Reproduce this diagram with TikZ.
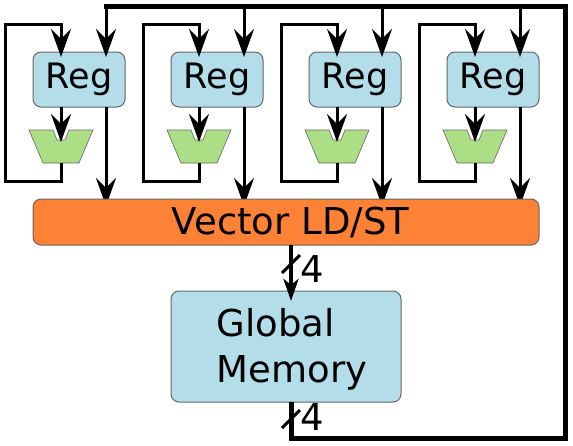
\documentclass[tikz,border=0pt]{standalone}
\usepackage{fontspec}
\setmainfont{DejaVu Sans}
\usetikzlibrary{arrows.meta}
\definecolor{boxblue}{HTML}{B2DDE9}
\definecolor{boxorange}{HTML}{FE8235}
\definecolor{muxgreen}{HTML}{ABDE85}
\definecolor{edgegray}{HTML}{666666}
\tikzset{
  block/.style={draw=edgegray,line width=1pt,rounded corners=8pt,inner sep=0pt,outer sep=0pt,text=black,font=\fontsize{37}{46}\selectfont},
  regbox/.style={block,fill=boxblue,minimum width=92pt,minimum height=55pt,font=\fontsize{35}{40}\selectfont},
  wire/.style={draw=black,line width=3pt,line join=miter},
  bus/.style={draw=black,line width=5pt,line join=miter},
  arrowwire/.style={wire,-{Stealth[length=28pt,width=20pt,inset=10pt]}},
  memarrow/.style={draw=black,line width=4pt,-{Stealth[length=22pt,width=15pt,inset=6pt]}},
  tick/.style={draw=black,line width=3pt},
  mux/.style={draw=edgegray,line width=0.6pt,fill=muxgreen},
  widthlabel/.style={font=\fontsize{37}{40}\selectfont,inner sep=0pt,anchor=base west}
}
\begin{document}
\begin{tikzpicture}[x=1pt,y=-1pt]
\useasboundingbox (0,0) rectangle (573,445);
\fill[white] (0,0) rectangle (573,445);
% top bus
\coordinate (bustl) at (106,6);
\coordinate (bustr) at (565,6);
\coordinate (busbr) at (565,438);
\coordinate (busbl) at (291,438);
% columns
\foreach \i/\dx in {1/0,2/138,3/276,4/414}{
  \coordinate (fbtop\i) at ({61+\dx},24);
  \coordinate (fbtl\i) at ({5+\dx},24);
  \coordinate (fbbl\i) at ({5+\dx},181);
  \coordinate (fbbr\i) at ({61+\dx},181);
  \coordinate (muxin\i) at ({61+\dx},142);
  \coordinate (muxout\i) at ({61+\dx},163);
  \coordinate (regin\i) at ({61+\dx},57);
  \coordinate (regout\i) at ({61+\dx},107);
  \coordinate (busin\i) at ({106+\dx},57);
  \coordinate (busout\i) at ({106+\dx},107);
  \coordinate (stin\i) at ({106+\dx},206);
  \coordinate (bustap\i) at ({106+\dx},6);
  \path[mux] ({29+\dx},130) -- ({53+\dx},130) -- ({57+\dx},140) -- ({65+\dx},140) -- ({69+\dx},130) -- ({93+\dx},130) -- ({79+\dx},163) -- ({43+\dx},163) -- cycle;
  \node[regbox] (reg\i) at ({79+\dx},79.5) {Reg};
  \draw[wire] (muxout\i) -- (fbbr\i) -- (fbbl\i) -- (fbtl\i) -- (fbtop\i) -- +(0,1);
  \draw[arrowwire] (fbtop\i) -- (regin\i);
  \draw[arrowwire] (regout\i) -- (muxin\i);
  \draw[arrowwire] (bustap\i) -- (busin\i);
  \draw[arrowwire] (busout\i) -- (stin\i);
}
\node[block,fill=boxorange,minimum width=506pt,minimum height=46pt] (vec) at (286,222) {\hspace{9pt}Vector LD/ST};
\node[block,fill=boxblue,minimum width=230pt,minimum height=111pt] (mem) at (286,346.5) {};
\node[font=\fontsize{37}{46}\selectfont,align=left,inner sep=0pt] (memtext) at (292,349.5) {Global\\Memory};
\coordinate (vecout) at (291,245);
\coordinate (memin) at (291,301);
\coordinate (memout) at (291,402);
\draw[memarrow] (vecout) -- (memin);
\draw[bus,line cap=butt] (bustl) -- (bustr) -- (busbr) -- (busbl) -- (memout);
\draw[bus] (bustl) -- +(-2,0);
\coordinate (t1a) at (282,273); \coordinate (t1b) at (300,255);
\coordinate (t2a) at (282,428); \coordinate (t2b) at (300,410);
\draw[tick] (t1a) -- (t1b);
\draw[tick] (t2a) -- (t2b);
\node[widthlabel] (w1) at (300,282) {4};
\node[widthlabel] (w2) at (300,430) {4};
\end{tikzpicture}
\end{document}
